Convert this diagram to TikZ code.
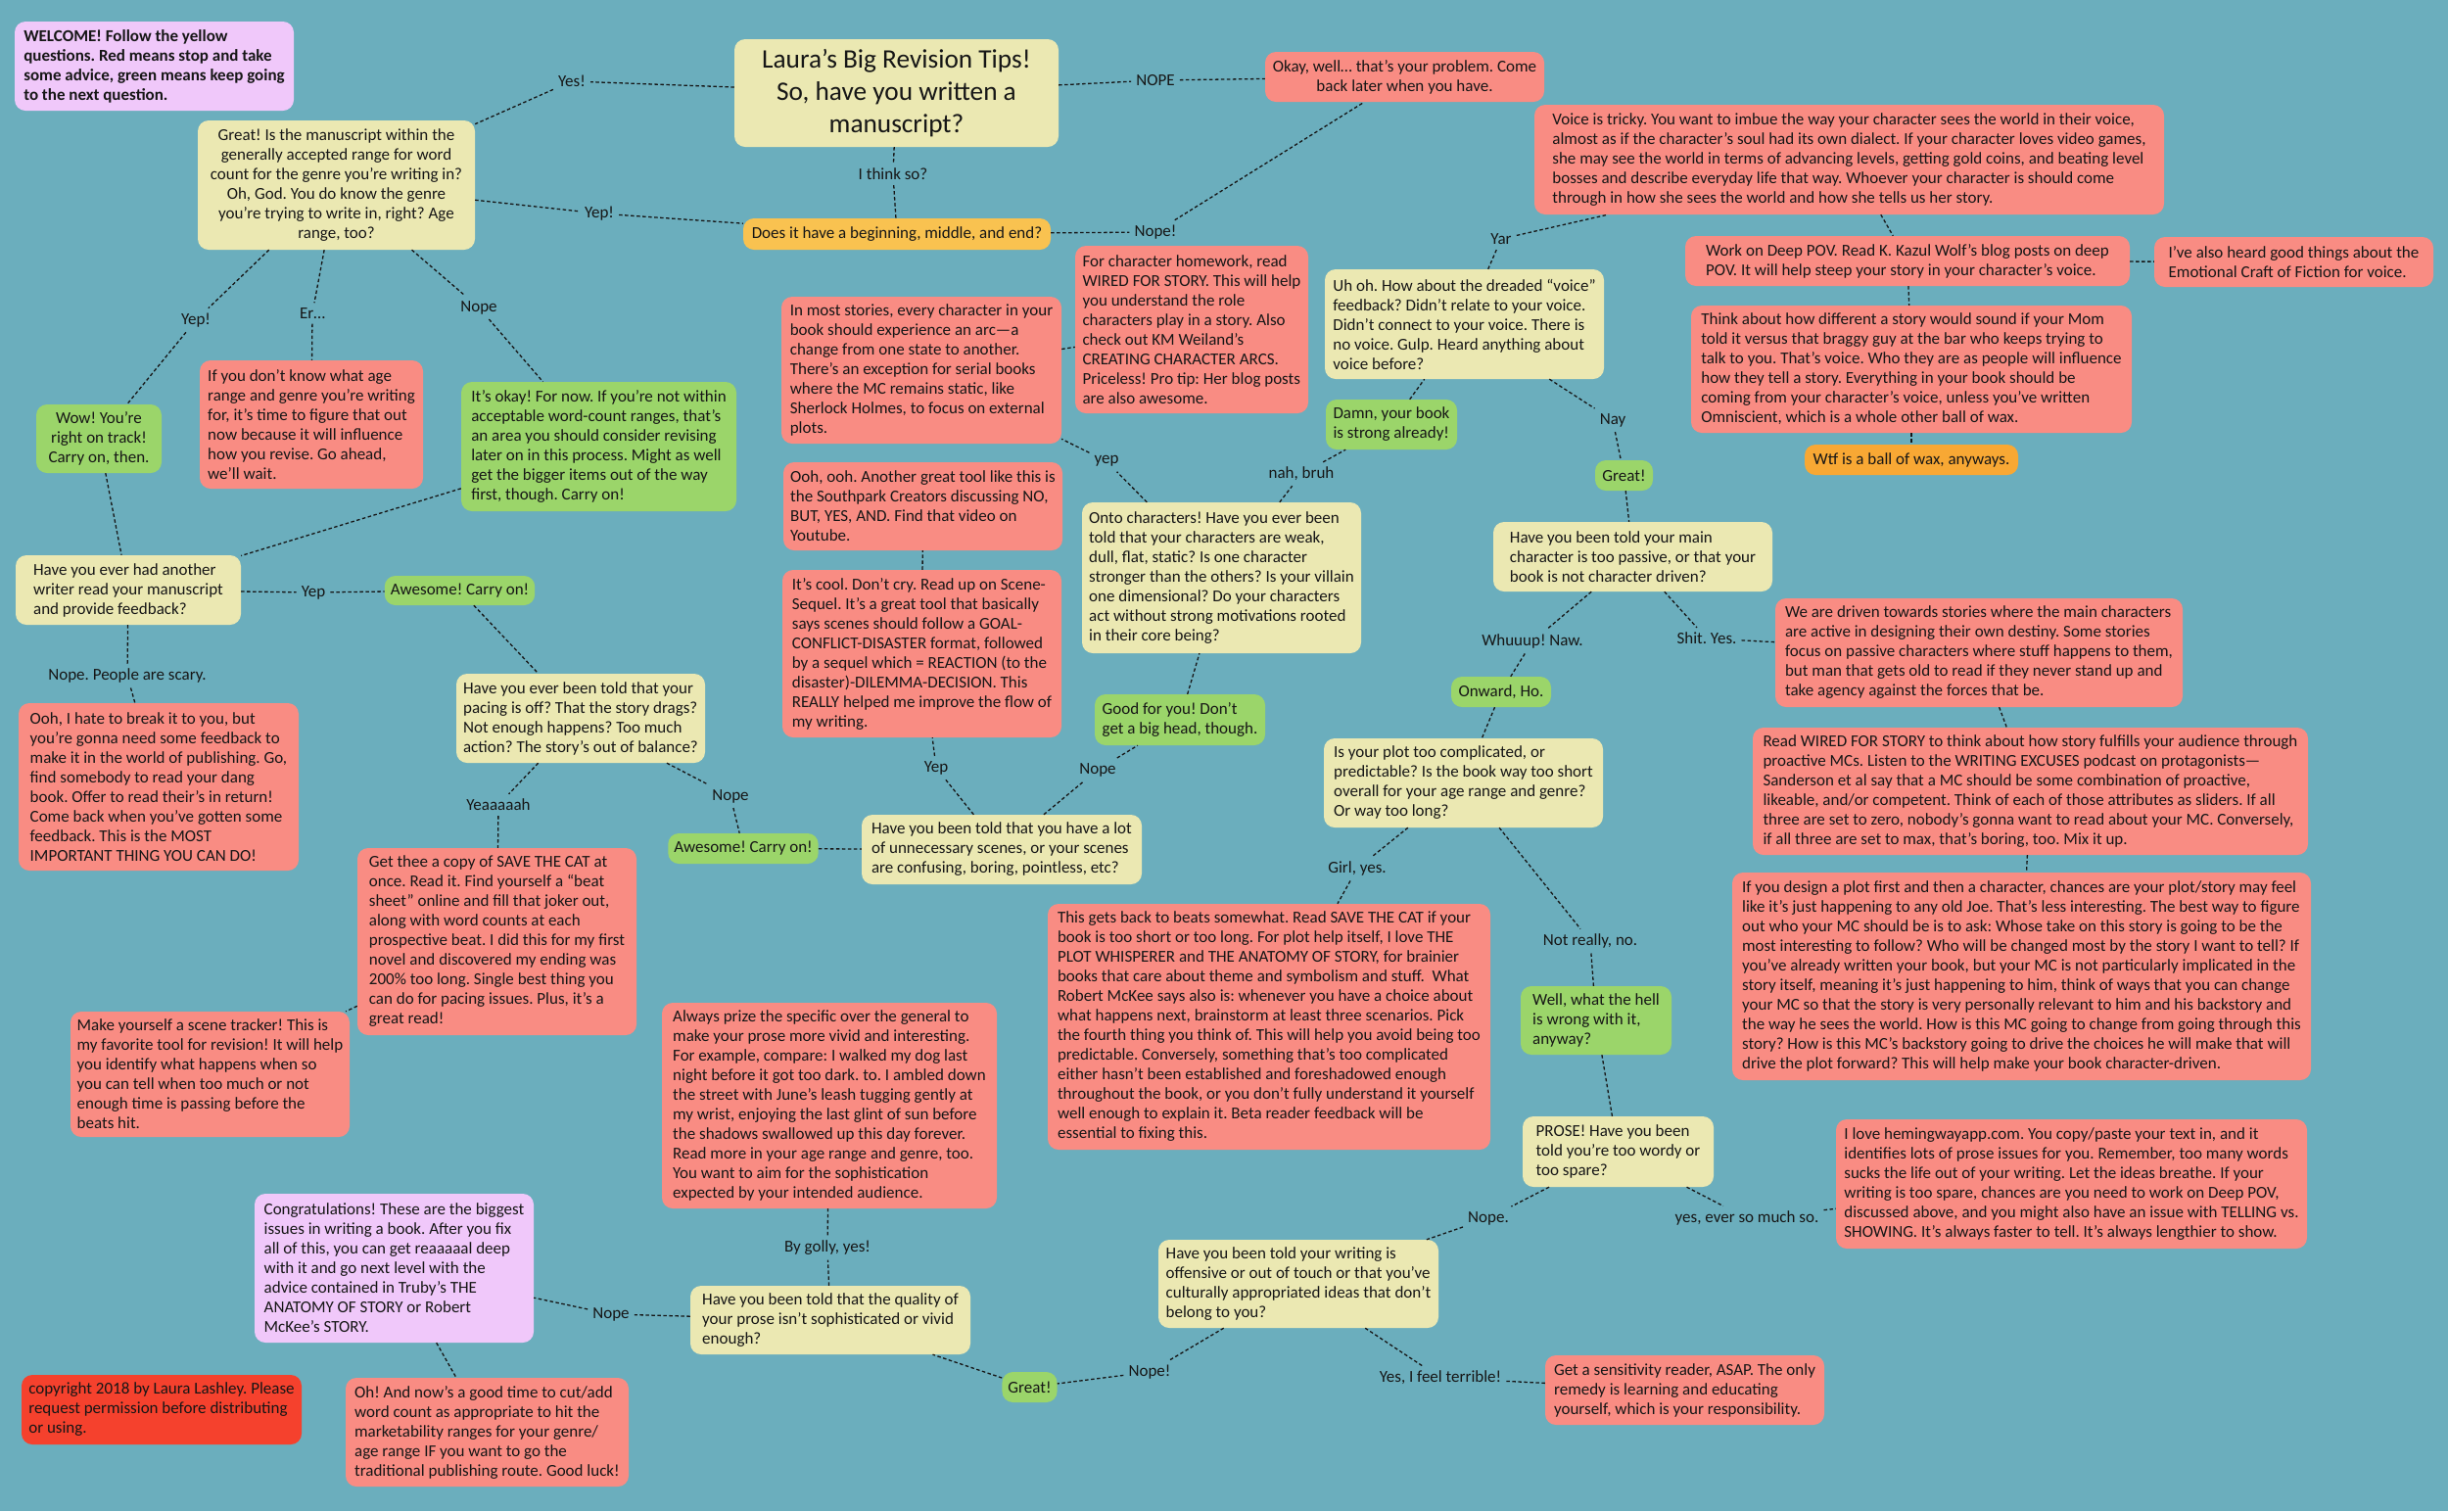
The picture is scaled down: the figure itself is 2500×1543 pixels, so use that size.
\documentclass[tikz,border=0pt]{standalone}
\usepackage{fontspec}
\setmainfont{Carlito}
\frenchspacing
\definecolor{bgc}{HTML}{6BAEBD}
\definecolor{ycol}{HTML}{EBE8B2}
\definecolor{rcol}{HTML}{F98C83}
\definecolor{gcol}{HTML}{9BD56A}
\definecolor{pcol}{HTML}{F0C8FA}
\definecolor{ocol}{HTML}{F9C250}
\definecolor{o2col}{HTML}{F8A834}
\definecolor{ccol}{HTML}{F5412D}
\definecolor{txt}{HTML}{161616}
\tikzset{
  base/.style={rounded corners=11pt, inner xsep=6pt, inner ysep=4pt, text=txt,
    font=\fontsize{17}{20}\selectfont\frenchspacing, align=left},
  ybox/.style={base, fill=ycol},
  rbox/.style={base, fill=rcol},
  gbox/.style={base, fill=gcol},
  pbox/.style={base, fill=pcol},
  obox/.style={base, fill=ocol},
  otwobox/.style={base, fill=o2col},
  cbox/.style={base, fill=ccol},
  ctr/.style={align=center},
  lbl/.style={font=\fontsize{17}{20}\selectfont\frenchspacing, text=txt, inner sep=5pt},
  conn/.style={draw=txt, line width=1.3pt, dash pattern=on 3.5pt off 2.5pt},
}
\newcommand{\Bx}[7]{\node[#1, minimum width={(#5)-(#3)}, minimum height={(#6)-(#4)}] (#2) at ({((#3)+(#5))/2},{((#4)+(#6))/2}) {#7};}
\newcommand{\Lb}[4]{\node[lbl] (#1) at (#2,#3) {#4};}
\begin{document}
\begin{tikzpicture}[x=1pt,y=-1pt]
\fill[bgc] (0,0) rectangle (2500,1543);
\useasboundingbox (0,0) rectangle (2500,1543);

% ---------- boxes ----------
\Bx{pbox,font=\fontsize{17}{20}\selectfont\bfseries\frenchspacing}{welcome}{15}{22}{300}{113}{WELCOME! Follow the yellow\\questions. Red means stop and take\\some advice, green means keep going\\to the next question.}
\Bx{ybox,ctr,font=\fontsize{27.3}{33}\selectfont\frenchspacing}{title}{750}{40}{1081}{150}{Laura’s Big Revision Tips!\\So, have you written a\\manuscript?}
\Bx{ybox,ctr}{manuscript}{202}{123}{485}{255}{Great! Is the manuscript within the\\generally accepted range for word\\count for the genre you’re writing in?\\Oh, God. You do know the genre\\you’re trying to write in, right? Age\\range, too?}
\Bx{obox,ctr}{doesit}{759}{223}{1073}{255}{Does it have a beginning, middle, and end?}
\Bx{rbox,ctr}{okay}{1292}{53}{1577}{104}{Okay, well… that’s your problem. Come\\back later when you have.}
\Bx{rbox}{voice}{1567}{107}{2210}{219}{Voice is tricky. You want to imbue the way your character sees the world in their voice,\\almost as if the character’s soul had its own dialect. If your character loves video games,\\she may see the world in terms of advancing levels, getting gold coins, and beating level\\bosses and describe everyday life that way. Whoever your character is should come\\through in how she sees the world and how she tells us her story.}
\Bx{rbox}{workdeep}{1721}{241}{2175}{292}{Work on Deep POV. Read K. Kazul Wolf’s blog posts on deep\\POV. It will help steep your story in your character’s voice.}
\Bx{rbox}{ivealso}{2200}{242}{2485}{293}{I’ve also heard good things about the\\Emotional Craft of Fiction for voice.}
\Bx{rbox}{think}{1727}{312}{2177}{442}{Think about how different a story would sound if your Mom\\told it versus that braggy guy at the bar who keeps trying to\\talk to you. That’s voice. Who they are as people will influence\\how they tell a story. Everything in your book should be\\coming from your character’s voice, unless you’ve written\\Omniscient, which is a whole other ball of wax.}
\Bx{otwobox,ctr}{wtf}{1843}{454}{2061}{485}{Wtf is a ball of wax, anyways.}
\Bx{rbox}{forchar}{1098}{251}{1336}{422}{For character homework, read\\WIRED FOR STORY. This will help\\you understand the role\\characters play in a story. Also\\check out KM Weiland’s\\CREATING CHARACTER ARCS.\\Priceless! Pro tip: Her blog posts\\are also awesome.}
\Bx{rbox}{inmost}{798}{303}{1084}{453}{In most stories, every character in your\\book should experience an arc—a\\change from one state to another.\\There’s an exception for serial books\\where the MC remains static, like\\Sherlock Holmes, to focus on external\\plots.}
\Bx{ybox}{uhoh}{1353}{275}{1638}{387}{Uh oh. How about the dreaded “voice”\\feedback? Didn’t relate to your voice.\\Didn’t connect to your voice. There is\\no voice. Gulp. Heard anything about\\voice before?}
\Bx{gbox}{damn}{1354}{408}{1488}{459}{Damn, your book\\is strong already!}
\Bx{gbox,ctr}{greatA}{1629}{470}{1688}{501}{Great!}
\Bx{gbox,ctr}{wow}{37}{413}{165}{483}{Wow! You’re\\right on track!\\Carry on, then.}
\Bx{rbox}{dontknow}{204}{368}{432}{499}{If you don’t know what age\\range and genre you’re writing\\for, it’s time to figure that out\\now because it will influence\\how you revise. Go ahead,\\we’ll wait.}
\Bx{gbox}{itsokay}{471}{390}{752}{522}{It’s okay! For now. If you’re not within\\acceptable word-count ranges, that’s\\an area you should consider revising\\later on in this process. Might as well\\get the bigger items out of the way\\first, though. Carry on!}
\Bx{ybox}{writer}{16}{567}{246}{638}{Have you ever had another\\writer read your manuscript\\and provide feedback?}
\Bx{gbox,ctr}{awesomeA}{393}{588}{546}{618}{Awesome! Carry on!}
\Bx{rbox}{oohhate}{19}{718}{305}{889}{Ooh, I hate to break it to you, but\\you’re gonna need some feedback to\\make it in the world of publishing. Go,\\find somebody to read your dang\\book. Offer to read their’s in return!\\Come back when you’ve gotten some\\feedback. This is the MOST\\IMPORTANT THING YOU CAN DO!}
\Bx{ybox}{pacing}{466}{688}{720}{779}{Have you ever been told that your\\pacing is off? That the story drags?\\Not enough happens? Too much\\action? The story’s out of balance?}
\Bx{rbox}{getthee}{365}{866}{650}{1057}{Get thee a copy of SAVE THE CAT at\\once. Read it. Find yourself a “beat\\sheet” online and fill that joker out,\\along with word counts at each\\prospective beat. I did this for my first\\novel and discovered my ending was\\200\% too long. Single best thing you\\can do for pacing issues. Plus, it’s a\\great read!}
\Bx{rbox}{tracker}{72}{1033}{357}{1161}{Make yourself a scene tracker! This is\\my favorite tool for revision! It will help\\you identify what happens when so\\you can tell when too much or not\\enough time is passing before the\\beats hit.}
\Bx{rbox}{oohooh}{800}{472}{1085}{562}{Ooh, ooh. Another great tool like this is\\the Southpark Creators discussing NO,\\BUT, YES, AND. Find that video on\\Youtube.}
\Bx{rbox}{itscool}{799}{582}{1084}{753}{It’s cool. Don’t cry. Read up on Scene-\\Sequel. It’s a great tool that basically\\says scenes should follow a GOAL-\\CONFLICT-DISASTER format, followed\\by a sequel which = REACTION (to the\\disaster)-DILEMMA-DECISION. This\\REALLY helped me improve the flow of\\my writing.}
\Bx{ybox}{onto}{1105}{513}{1390}{667}{Onto characters! Have you ever been\\told that your characters are weak,\\dull, flat, static? Is one character\\stronger than the others? Is your villain\\one dimensional? Do your characters\\act without strong motivations rooted\\in their core being?}
\Bx{gbox}{goodfor}{1118}{709}{1292}{761}{Good for you! Don’t\\get a big head, though.}
\Bx{ybox}{scenes}{880}{832}{1166}{903}{Have you been told that you have a lot\\of unnecessary scenes, or your scenes\\are confusing, boring, pointless, etc?}
\Bx{gbox,ctr}{awesomeB}{683}{851}{835}{882}{Awesome! Carry on!}
\Bx{ybox}{passive}{1525}{533}{1810}{604}{Have you been told your main\\character is too passive, or that your\\book is not character driven?}
\Bx{rbox}{driven}{1813}{611}{2229}{722}{We are driven towards stories where the main characters\\are active in designing their own destiny. Some stories\\focus on passive characters where stuff happens to them,\\but man that gets old to read if they never stand up and\\take agency against the forces that be.}
\Bx{gbox,ctr}{onward}{1482}{691}{1584}{722}{Onward, Ho.}
\Bx{ybox}{plot}{1352}{754}{1637}{845}{Is your plot too complicated, or\\predictable? Is the book way too short\\overall for your age range and genre?\\Or way too long?}
\Bx{rbox}{readwired}{1790}{743}{2357}{873}{Read WIRED FOR STORY to think about how story fulfills your audience through\\proactive MCs. Listen to the WRITING EXCUSES podcast on protagonists—\\Sanderson et al say that a MC should be some combination of proactive,\\likeable, and/or competent. Think of each of those attributes as sliders. If all\\three are set to zero, nobody’s gonna want to read about your MC. Conversely,\\if all three are set to max, that’s boring, too. Mix it up.}
\Bx{rbox}{design}{1769}{891}{2360}{1103}{If you design a plot first and then a character, chances are your plot/story may feel\\like it’s just happening to any old Joe. That’s less interesting. The best way to figure\\out who your MC should be is to ask: Whose take on this story is going to be the\\most interesting to follow? Who will be changed most by the story I want to tell? If\\you’ve already written your book, but your MC is not particularly implicated in the\\story itself, meaning it’s just happening to him, think of ways that you can change\\your MC so that the story is very personally relevant to him and his backstory and\\the way he sees the world. How is this MC going to change from going through this\\story? How is this MC’s backstory going to drive the choices he will make that will\\drive the plot forward? This will help make your book character-driven.}
\Bx{rbox}{beats}{1070}{923}{1522}{1174}{This gets back to beats somewhat. Read SAVE THE CAT if your\\book is too short or too long. For plot help itself, I love THE\\PLOT WHISPERER and THE ANATOMY OF STORY, for brainier\\books that care about theme and symbolism and stuff.~ What\\Robert McKee says also is: whenever you have a choice about\\what happens next, brainstorm at least three scenarios. Pick\\the fourth thing you think of. This will help you avoid being too\\predictable. Conversely, something that’s too complicated\\either hasn’t been established and foreshadowed enough\\throughout the book, or you don’t fully understand it yourself\\well enough to explain it. Beta reader feedback will be\\essential to fixing this.}
\Bx{gbox}{well}{1553}{1007}{1707}{1077}{Well, what the hell\\is wrong with it,\\anyway?}
\Bx{ybox}{prose}{1555}{1140}{1750}{1212}{PROSE! Have you been\\told you’re too wordy or\\too spare?}
\Bx{rbox}{hemingway}{1875}{1143}{2356}{1275}{I love hemingwayapp.com. You copy/paste your text in, and it\\identifies lots of prose issues for you. Remember, too many words\\sucks the life out of your writing. Let the ideas breathe. If your\\writing is too spare, chances are you need to work on Deep POV,\\discussed above, and you might also have an issue with TELLING vs.\\SHOWING. It’s always faster to tell. It’s always lengthier to show.}
\Bx{rbox}{always}{676}{1024}{1018}{1234}{Always prize the specific over the general to\\make your prose more vivid and interesting.\\For example, compare: I walked my dog last\\night before it got too dark. to. I ambled down\\the street with June’s leash tugging gently at\\my wrist, enjoying the last glint of sun before\\the shadows swallowed up this day forever.\\Read more in your age range and genre, too.\\You want to aim for the sophistication\\expected by your intended audience.}
\Bx{ybox}{offensive}{1183}{1266}{1469}{1356}{Have you been told your writing is\\offensive or out of touch or that you’ve\\culturally appropriated ideas that don’t\\belong to you?}
\Bx{rbox}{sensitivity}{1578}{1384}{1863}{1455}{Get a sensitivity reader, ASAP. The only\\remedy is learning and educating\\yourself, which is your responsibility.}
\Bx{pbox}{congrats}{260}{1219}{545}{1371}{Congratulations! These are the biggest\\issues in writing a book. After you fix\\all of this, you can get reaaaaal deep\\with it and go next level with the\\advice contained in Truby’s THE\\ANATOMY OF STORY or Robert\\McKee’s STORY.}
\Bx{ybox}{qualprose}{705}{1313}{991}{1383}{Have you been told that the quality of\\your prose isn’t sophisticated or vivid\\enough?}
\Bx{gbox,ctr}{greatB}{1024}{1401}{1079}{1432}{Great!}
\Bx{cbox}{copyright}{22}{1404}{308}{1475}{copyright 2018 by Laura Lashley. Please\\request permission before distributing\\or using.}
\Bx{rbox}{ohand}{353}{1407}{642}{1518}{Oh! And now’s a good time to cut/add\\word count as appropriate to hit the\\marketability ranges for your genre/\\age range IF you want to go the\\traditional publishing route. Good luck!}

% ---------- labels ----------
\Lb{yesA}{584}{83}{Yes!}
\Lb{nopeT}{1180}{82}{NOPE}
\Lb{ithink}{912}{178}{I think so?}
\Lb{yepB}{612}{218}{Yep!}
\Lb{nopeB}{1180}{237}{Nope!}
\Lb{yepC}{200}{327}{Yep!}
\Lb{er}{319}{320}{Er…}
\Lb{nopeC}{489}{314}{Nope}
\Lb{yepD}{320}{605}{Yep}
\Lb{scary}{130}{690}{Nope. People are scary.}
\Lb{yeah}{509}{822}{Yeaaaaah}
\Lb{nopeD}{746}{813}{Nope}
\Lb{yepE}{956}{784}{Yep}
\Lb{nopeE}{1121}{786}{Nope}
\Lb{yepF}{1130}{471}{yep}
\Lb{yar}{1533}{244}{Yar}
\Lb{nah}{1329}{484}{nah, bruh}
\Lb{nay}{1647}{429}{Nay}
\Lb{whuuup}{1565}{655}{Whuuup! Naw.}
\Lb{shit}{1743}{652}{Shit. Yes.}
\Lb{girl}{1386}{887}{Girl, yes.}
\Lb{notreally}{1624}{961}{Not really, no.}
\Lb{golly}{845}{1274}{By golly, yes!}
\Lb{nopeF}{624}{1342}{Nope}
\Lb{nopeG}{1174}{1401}{Nope!}
\Lb{nopeH}{1520}{1244}{Nope.}
\Lb{yesever}{1784}{1244}{yes, ever so much so.}
\Lb{terrible}{1471}{1407}{Yes, I feel terrible!}

% ---------- connectors ----------
\draw[conn] (title) -- (yesA);  \draw[conn] (yesA) -- (manuscript);
\draw[conn] (title) -- (nopeT); \draw[conn] (nopeT) -- (okay);
\draw[conn] (title) -- (ithink); \draw[conn] (ithink) -- (doesit);
\draw[conn] (manuscript) -- (yepB); \draw[conn] (yepB) -- (doesit);
\draw[conn] (doesit) -- (nopeB); \draw[conn] (nopeB) -- (okay);
\draw[conn] (manuscript) -- (yepC); \draw[conn] (yepC) -- (wow);
\draw[conn] (manuscript) -- (er); \draw[conn] (er) -- (dontknow);
\draw[conn] (manuscript) -- (nopeC); \draw[conn] (nopeC) -- (itsokay);
\draw[conn] (wow) -- (writer);
\draw[conn] (itsokay) -- (writer);
\draw[conn] (writer) -- (yepD); \draw[conn] (yepD) -- (awesomeA);
\draw[conn] (writer) -- (scary); \draw[conn] (scary) -- (oohhate);
\draw[conn] (awesomeA) -- (pacing);
\draw[conn] (pacing) -- (yeah); \draw[conn] (yeah) -- (getthee);
\draw[conn] (getthee) -- (tracker);
\draw[conn] (pacing) -- (nopeD); \draw[conn] (nopeD) -- (awesomeB);
\draw[conn] (awesomeB) -- (scenes);
\draw[conn] (scenes) -- (yepE); \draw[conn] (yepE) -- (itscool);
\draw[conn] (itscool) -- (oohooh);
\draw[conn] (scenes) -- (nopeE); \draw[conn] (nopeE) -- (goodfor);
\draw[conn] (goodfor) -- (onto);
\draw[conn] (onto) -- (yepF); \draw[conn] (yepF) -- (inmost);
\draw[conn] (inmost) -- (forchar);
\draw[conn] (onto) -- (nah); \draw[conn] (nah) -- (damn);
\draw[conn] (damn) -- (uhoh);
\draw[conn] (uhoh) -- (yar); \draw[conn] (yar) -- (voice);
\draw[conn] (voice) -- (workdeep);
\draw[conn] (workdeep) -- (ivealso);
\draw[conn] (workdeep) -- (think);
\draw[conn] (think) -- (wtf);
\draw[conn] (uhoh) -- (nay); \draw[conn] (nay) -- (greatA);
\draw[conn] (greatA) -- (passive);
\draw[conn] (passive) -- (whuuup); \draw[conn] (whuuup) -- (onward);
\draw[conn] (passive) -- (shit); \draw[conn] (shit) -- (driven);
\draw[conn] (driven) -- (readwired);
\draw[conn] (readwired) -- (design);
\draw[conn] (onward) -- (plot);
\draw[conn] (plot) -- (girl); \draw[conn] (girl) -- (beats);
\draw[conn] (plot) -- (notreally); \draw[conn] (notreally) -- (well);
\draw[conn] (well) -- (prose);
\draw[conn] (prose) -- (nopeH); \draw[conn] (nopeH) -- (offensive);
\draw[conn] (prose) -- (yesever); \draw[conn] (yesever) -- (hemingway);
\draw[conn] (offensive) -- (terrible); \draw[conn] (terrible) -- (sensitivity);
\draw[conn] (offensive) -- (nopeG); \draw[conn] (nopeG) -- (greatB);
\draw[conn] (greatB) -- (qualprose);
\draw[conn] (qualprose) -- (golly); \draw[conn] (golly) -- (always);
\draw[conn] (qualprose) -- (nopeF); \draw[conn] (nopeF) -- (congrats);
\draw[conn] (congrats) -- (ohand);
\end{tikzpicture}
\end{document}
